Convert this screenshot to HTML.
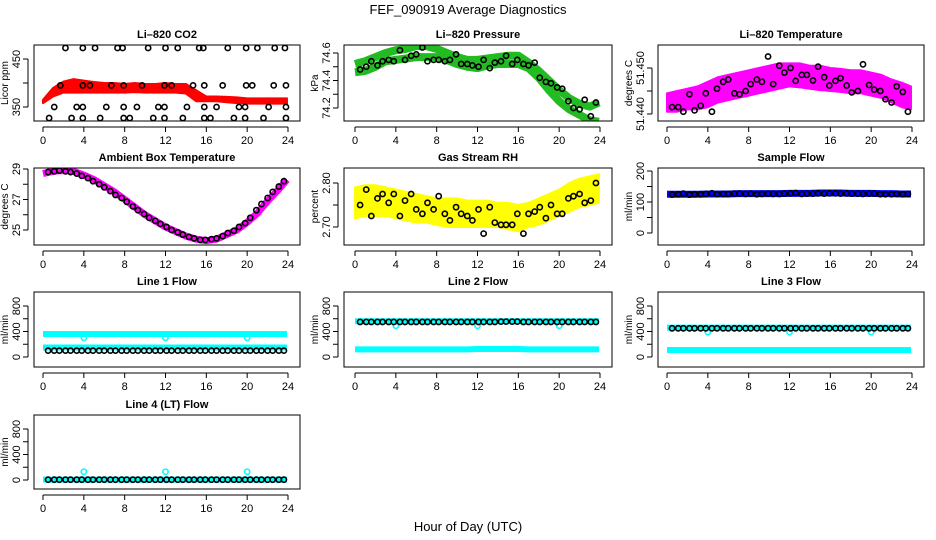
<!DOCTYPE html>
<html><head><meta charset="utf-8">
<style>
body{margin:0;background:#fff;}
svg{display:block;font-family:"Liberation Sans",Arial,sans-serif;}
</style></head>
<body>
<svg id="c" width="936" height="540" viewBox="0 0 936 540">
<text x="468" y="14" text-anchor="middle" font-size="13">FEF_090919  Average Diagnostics</text>
<text x="468" y="531" text-anchor="middle" font-size="13">Hour of Day (UTC)</text>
</svg>
<script>
// ---- data ----
const blackHours=[0.5,1.1,1.6,2.2,2.7,3.3,3.8,4.4,4.9,5.5,6.0,6.6,7.1,7.7,8.2,8.8,9.3,9.9,10.4,11.0,11.5,12.1,12.6,13.2,13.7,14.3,14.8,15.4,15.9,16.5,17.0,17.6,18.1,18.7,19.2,19.8,20.3,20.9,21.4,22.0,22.5,23.1,23.6];
const bandHours=[0,1,2,3,4,5,6,7,8,9,10,11,12,13,14,15,16,17,18,19,20,21,22,23,23.9];
const xTicks=[0,4,8,12,16,20,24];

const co2Upper=[365,390,403,408,405,402,400,400,398,400,398,398,400,398,398,385,372,372,371,370,368,368,368,368,368];
const co2Lower=[358,372,380,380,380,380,380,380,380,381,380,380,380,380,378,362,362,362,360,358,357,357,357,357,357];
const co2BlackHours=[2.2,3.9,5.1,7.3,7.8,10.3,12.0,13.2,15.3,15.7,18.1,19.9,21.0,22.7,23.7,1.7,3.9,4.6,6.7,7.9,9.7,11.9,12.6,14.7,15.8,17.6,19.9,20.5,22.6,23.8,1.1,3.3,3.9,6.2,7.9,9.2,11.3,11.9,14.1,15.8,17.0,19.2,19.8,22.1,23.8,0.6,2.8,3.9,5.6,7.9,8.5,10.8,11.9,13.7,15.8,16.4,18.7,19.8,21.6,23.8];
const co2BlackValues=[473,473,473,473,473,473,473,473,473,473,473,473,473,473,473,395,395,395,395,395,395,395,395,395,395,395,395,395,395,395,350,350,350,350,350,350,350,350,350,350,350,350,350,350,350,327,327,327,327,327,327,327,327,327,327,327,327,327,327,327];

const presUpper=[74.52,74.54,74.57,74.60,74.62,74.63,74.65,74.65,74.63,74.60,74.57,74.55,74.55,74.56,74.57,74.58,74.58,74.53,74.47,74.40,74.33,74.27,74.23,74.21,74.24];
const presLower=[74.46,74.47,74.50,74.54,74.55,74.56,74.57,74.57,74.57,74.55,74.52,74.50,74.49,74.51,74.52,74.52,74.52,74.49,74.42,74.33,74.25,74.19,74.15,74.11,74.10];
const presBlack=[74.48,74.50,74.54,74.51,74.54,74.55,74.54,74.62,74.55,74.58,74.59,74.64,74.54,74.55,74.55,74.54,74.55,74.59,74.52,74.52,74.51,74.50,74.55,74.49,74.53,74.54,74.58,74.52,74.55,74.52,74.51,74.53,74.42,74.39,74.38,74.35,74.34,74.25,74.20,74.19,74.26,74.14,74.24];

const tempUpper=[51.4445,51.4450,51.4455,51.4460,51.4470,51.4480,51.4485,51.4490,51.4495,51.4500,51.4505,51.4510,51.4510,51.4510,51.4505,51.4505,51.4500,51.4498,51.4495,51.4495,51.4490,51.4485,51.4475,51.4468,51.4460];
const tempLower=[51.4405,51.4405,51.4410,51.4410,51.4415,51.4425,51.4430,51.4435,51.4440,51.4445,51.4450,51.4455,51.4460,51.4458,51.4455,51.4452,51.4450,51.4448,51.4445,51.4445,51.4440,51.4435,51.4425,51.4415,51.4410];
const tempBlack=[51.4415,51.4415,51.4405,51.4443,51.4408,51.4418,51.4445,51.4405,51.4455,51.4470,51.4475,51.4445,51.4443,51.4450,51.4465,51.4475,51.4470,51.4525,51.4465,51.4505,51.4490,51.4500,51.4472,51.4485,51.4485,51.4473,51.4503,51.4480,51.4462,51.4472,51.4478,51.4462,51.4447,51.4450,51.4508,51.4463,51.4453,51.4450,51.4432,51.4425,51.4460,51.4448,51.4405];

const ambientBand=[28.7,28.85,28.9,28.85,28.6,28.3,27.9,27.5,27.0,26.5,26.0,25.6,25.2,24.9,24.6,24.4,24.3,24.4,24.7,25.0,25.5,26.1,26.9,27.6,28.3];
const ambientBlack=[28.8,28.85,28.9,28.85,28.8,28.7,28.55,28.4,28.2,28.0,27.8,27.55,27.3,27.1,26.85,26.55,26.3,26.05,25.8,25.6,25.4,25.2,25.0,24.85,24.7,24.55,24.45,24.35,24.35,24.4,24.45,24.6,24.8,24.95,25.2,25.45,25.8,26.3,26.7,27.1,27.5,27.85,28.2];

const rhUpper=[2.79,2.795,2.795,2.79,2.785,2.78,2.775,2.77,2.765,2.765,2.765,2.76,2.76,2.76,2.755,2.755,2.75,2.755,2.765,2.775,2.785,2.80,2.81,2.815,2.82];
const rhLower=[2.72,2.725,2.725,2.725,2.72,2.715,2.71,2.71,2.705,2.70,2.70,2.70,2.70,2.70,2.70,2.695,2.69,2.70,2.705,2.715,2.725,2.735,2.745,2.75,2.755];
const rhBlack=[2.75,2.785,2.725,2.765,2.775,2.755,2.775,2.725,2.76,2.775,2.74,2.73,2.755,2.74,2.77,2.73,2.715,2.745,2.73,2.725,2.715,2.74,2.685,2.745,2.71,2.705,2.705,2.705,2.73,2.685,2.73,2.735,2.745,2.72,2.75,2.73,2.73,2.765,2.77,2.775,2.755,2.76,2.80];

const sampleBand=[125,125,125,125,126,126,126,127,127,127,127,127,128,128,128,129,129,129,128,128,128,127,127,126,126];
const sampleBlack=[124,125,127,124,125,125,126,128,125,126,126,127,127,126,127,125,126,127,126,126,127,128,129,126,127,127,128,127,128,128,127,128,127,127,126,127,127,125,125,125,126,125,126];

const line1CyanHigh=[360,360,360,360,360,360,360,360,360,360,360,360,360,360,360,360,360,360,360,360,360,360,360,360,360];
const line1CyanLow=[150,150,150,150,150,150,150,150,150,150,150,150,150,150,150,150,150,150,150,150,150,150,150,150,150];
const line1Black=[100,100,100,100,100,100,100,100,100,100,100,100,100,100,100,100,100,100,100,100,100,100,100,100,100,100,100,100,100,100,100,100,100,100,100,100,100,100,100,100,100,100,100];
const line2CyanHigh=[560,560,560,560,560,560,560,560,560,560,560,560,560,560,560,560,560,560,560,560,560,560,560,560,560];
const line2CyanLow=[120,120,120,120,120,120,120,120,120,120,120,120,125,125,125,125,125,120,120,120,120,120,120,120,120];
const line2Black=[550,550,550,550,550,550,550,550,550,550,550,550,550,550,550,550,550,550,550,550,550,550,550,550,550,555,555,555,555,550,550,550,550,550,550,550,550,550,550,550,550,550,550];
const line3CyanHigh=[460,460,460,460,460,460,460,460,460,460,460,460,460,460,460,460,460,460,460,460,460,460,460,460,460];
const line3CyanLow=[110,110,110,110,110,110,110,110,110,110,110,110,110,110,110,110,110,110,110,110,110,110,110,110,110];
const line3Black=[450,450,450,450,450,450,450,450,450,450,450,450,450,450,450,450,450,450,450,450,450,450,450,450,450,450,450,450,450,450,450,450,450,450,450,450,450,450,450,450,450,450,450];
const line4Cyan=[5,5,5,5,5,5,5,5,5,5,5,5,5,5,5,5,5,5,5,5,5,5,5,5,5];
const line4Black=[5,5,5,5,5,5,5,5,5,5,5,5,5,5,5,5,5,5,5,5,5,5,5,5,5,5,5,5,5,5,5,5,5,5,5,5,5,5,5,5,5,5,5];
const flowOutlierHours=[4,12,20];
const line1Outliers=[300,300,300];
const line2Outliers=[490,490,490];
const line3Outliers=[390,390,390];
const line4Outliers=[130,130,130];

// ---- layout ----
const svg=document.getElementById('c');
const NS='http://www.w3.org/2000/svg';
const cols=[{L:34,R:300,x0:43,x24:288},{L:344,R:612,x0:355,x24:600},{L:658,R:924,x0:667,x24:912}];
const rows=[{T:45,B:121},{T:168,B:245},{T:292,B:367},{T:415,B:489}];
function mk(tag,attrs,parent){const e=document.createElementNS(NS,tag);for(const k in attrs)e.setAttribute(k,attrs[k]);(parent||svg).appendChild(e);return e;}

function panel(p){
  const c=cols[p.col],r=rows[p.row];
  const g=mk('g',{});
  
  
  const sx=h=>c.x0+(h/24)*(c.x24-c.x0);
  const sy=v=>p.py1+(v-p.v1)*(p.py2-p.py1)/(p.v2-p.v1);
  const clipId='clip'+p.col+p.row;
  const cp=mk('clipPath',{id:clipId},g);mk('rect',{x:c.L,y:r.T,width:c.R-c.L,height:r.B-r.T},cp);
  const pg=mk('g',{'clip-path':'url(#'+clipId+')'},g);
  p.draw(pg,sx,sy);
  const box=mk('rect',{x:c.L,y:r.T,width:c.R-c.L,height:r.B-r.T,fill:'none',stroke:'#000','stroke-width':1},g);
  
  
  const t=mk('text',{x:(c.L+c.R)/2,y:r.T-7,'text-anchor':'middle','font-size':11,'font-weight':'bold'},g);
  t.textContent=p.title;
  
  
  const xb=r.B+6;
  mk('line',{x1:sx(0),x2:sx(24),y1:xb,y2:xb,stroke:'#000'},g);
  xTicks.forEach(v=>{
    mk('line',{x1:sx(v),x2:sx(v),y1:xb,y2:xb+5,stroke:'#000'},g);
    if(p.xlabels){const tl=mk('text',{x:sx(v),y:xb+17,'text-anchor':'middle','font-size':11},g);tl.textContent=v;
      
      }
  });
  const yl=c.L-6;
  mk('line',{x1:yl,x2:yl,y1:sy(p.yt[0]),y2:sy(p.yt[p.yt.length-1]),stroke:'#000'},g);
  p.yt.forEach(v=>mk('line',{x1:yl,x2:yl-5,y1:sy(v),y2:sy(v),stroke:'#000'},g));
  p.yl.forEach((v,i)=>{const tx=c.L-14,ty=sy(v);const tl=mk('text',{x:tx,y:ty,'text-anchor':'middle','font-size':11,transform:'rotate(-90 '+tx+' '+ty+')'},g);tl.textContent=p.ylt[i];
    
    });
  const ax=c.L-26,ay=(r.T+r.B)/2;
  const at=mk('text',{x:ax,y:ay,'text-anchor':'middle','font-size':10,transform:'rotate(-90 '+ax+' '+ay+')'},g);
  at.textContent=p.ylab;
  
  
}
function bandPoly(g,sx,sy,up,lo,color,name){
  let pts=bandHours.map((h,i)=>sx(h)+','+sy(up[i]));
  for(let i=bandHours.length-1;i>=0;i--)pts.push(sx(bandHours[i])+','+sy(lo[i]));
  const e=mk('polygon',{points:pts.join(' '),fill:color,stroke:color,'stroke-width':2,'stroke-linejoin':'round'},g);
  
  
}
function bandLine(g,sx,sy,vals,color,w,name){
  const e=mk('polyline',{points:bandHours.map((h,i)=>sx(h)+','+sy(vals[i])).join(' '),fill:'none',stroke:color,'stroke-width':w,'stroke-linecap':'butt','stroke-linejoin':'round'},g);
  
  
}
function dots(g,sx,sy,hs,vs,color,name){
  hs.forEach((h,i)=>{const e=mk('circle',{cx:sx(h),cy:sy(vs[i]),r:2.6,fill:'none',stroke:color,'stroke-width':1.6},g);
    
    });
}
const flowT=[0,200,400,600,800],flowL=[0,400,800],flowLT=['0','400','800'];

panel({name:'panel-co2',col:0,row:0,title:'Li\u2013820 CO2',ylab:'Licor ppm',v1:450,py1:59,v2:350,py2:107,yt:[350,400,450],yl:[350,450],ylt:['350','450'],xlabels:true,
 draw:(g,sx,sy)=>{bandPoly(g,sx,sy,co2Upper,co2Lower,'#ff0000','co2-band');dots(g,sx,sy,co2BlackHours,co2BlackValues,'#000','co2-avg-point');}});
panel({name:'panel-pressure',col:1,row:0,title:'Li\u2013820 Pressure',ylab:'kPa',v1:74.6,py1:53,v2:74.2,py2:108,yt:[74.2,74.3,74.4,74.5,74.6],yl:[74.2,74.4,74.6],ylt:['74.2','74.4','74.6'],xlabels:true,
 draw:(g,sx,sy)=>{bandLine(g,sx,sy,presUpper,'#22bb22',8,'pressure-band-upper');bandLine(g,sx,sy,presLower,'#22bb22',8,'pressure-band-lower');dots(g,sx,sy,blackHours,presBlack,'#000','pressure-avg-point');}});
panel({name:'panel-li820-temp',col:2,row:0,title:'Li\u2013820 Temperature',ylab:'degrees C',v1:51.450,py1:68,v2:51.440,py2:114,yt:[51.440,51.445,51.450],yl:[51.440,51.450],ylt:['51.440','51.450'],xlabels:true,
 draw:(g,sx,sy)=>{bandPoly(g,sx,sy,tempUpper,tempLower,'#ff00ff','temp-band');dots(g,sx,sy,blackHours,tempBlack,'#000','temp-avg-point');}});
panel({name:'panel-ambient-temp',col:0,row:1,title:'Ambient Box Temperature',ylab:'degrees C',v1:29,py1:169,v2:25,py2:230,yt:[25,26,27,28,29],yl:[25,27,29],ylt:['25','27','29'],xlabels:true,
 draw:(g,sx,sy)=>{bandLine(g,sx,sy,ambientBand,'#ff00ff',7,'ambient-band');dots(g,sx,sy,blackHours,ambientBlack,'#000','ambient-avg-point');}});
panel({name:'panel-rh',col:1,row:1,title:'Gas Stream RH',ylab:'percent',v1:2.80,py1:183,v2:2.70,py2:227,yt:[2.70,2.75,2.80],yl:[2.70,2.80],ylt:['2.70','2.80'],xlabels:true,
 draw:(g,sx,sy)=>{bandPoly(g,sx,sy,rhUpper,rhLower,'#ffff00','rh-band');dots(g,sx,sy,blackHours,rhBlack,'#000','rh-avg-point');}});
panel({name:'panel-sample-flow',col:2,row:1,title:'Sample Flow',ylab:'ml/min',v1:200,py1:171,v2:0,py2:233,yt:[0,50,100,150,200],yl:[0,100,200],ylt:['0','100','200'],xlabels:true,
 draw:(g,sx,sy)=>{bandLine(g,sx,sy,sampleBand,'#0000ff',7,'sample-band');dots(g,sx,sy,blackHours,sampleBlack,'#000','sample-avg-point');}});
panel({name:'panel-line1',col:0,row:2,title:'Line 1 Flow',ylab:'ml/min',v1:800,py1:306,v2:0,py2:357,yt:flowT,yl:flowL,ylt:flowLT,xlabels:true,
 draw:(g,sx,sy)=>{bandLine(g,sx,sy,line1CyanHigh,'#00ffff',6,'line1-band-high');bandLine(g,sx,sy,line1CyanLow,'#00ffff',6,'line1-band-low');dots(g,sx,sy,flowOutlierHours,line1Outliers,'#00ffff','line1-outlier');dots(g,sx,sy,blackHours,line1Black,'#000','line1-avg-point');}});
panel({name:'panel-line2',col:1,row:2,title:'Line 2 Flow',ylab:'ml/min',v1:800,py1:306,v2:0,py2:357,yt:flowT,yl:flowL,ylt:flowLT,xlabels:true,
 draw:(g,sx,sy)=>{bandLine(g,sx,sy,line2CyanHigh,'#00ffff',6,'line2-band-high');bandLine(g,sx,sy,line2CyanLow,'#00ffff',6,'line2-band-low');dots(g,sx,sy,flowOutlierHours,line2Outliers,'#00ffff','line2-outlier');dots(g,sx,sy,blackHours,line2Black,'#000','line2-avg-point');}});
panel({name:'panel-line3',col:2,row:2,title:'Line 3 Flow',ylab:'ml/min',v1:800,py1:306,v2:0,py2:357,yt:flowT,yl:flowL,ylt:flowLT,xlabels:true,
 draw:(g,sx,sy)=>{bandLine(g,sx,sy,line3CyanHigh,'#00ffff',6,'line3-band-high');bandLine(g,sx,sy,line3CyanLow,'#00ffff',6,'line3-band-low');dots(g,sx,sy,flowOutlierHours,line3Outliers,'#00ffff','line3-outlier');dots(g,sx,sy,blackHours,line3Black,'#000','line3-avg-point');}});
panel({name:'panel-line4',col:0,row:3,title:'Line 4 (LT) Flow',ylab:'ml/min',v1:800,py1:429,v2:0,py2:480,yt:flowT,yl:flowL,ylt:flowLT,xlabels:true,
 draw:(g,sx,sy)=>{bandLine(g,sx,sy,line4Cyan,'#00ffff',6,'line4-band');dots(g,sx,sy,flowOutlierHours,line4Outliers,'#00ffff','line4-outlier');dots(g,sx,sy,blackHours,line4Black,'#000','line4-avg-point');}});
</script>
</body></html>
